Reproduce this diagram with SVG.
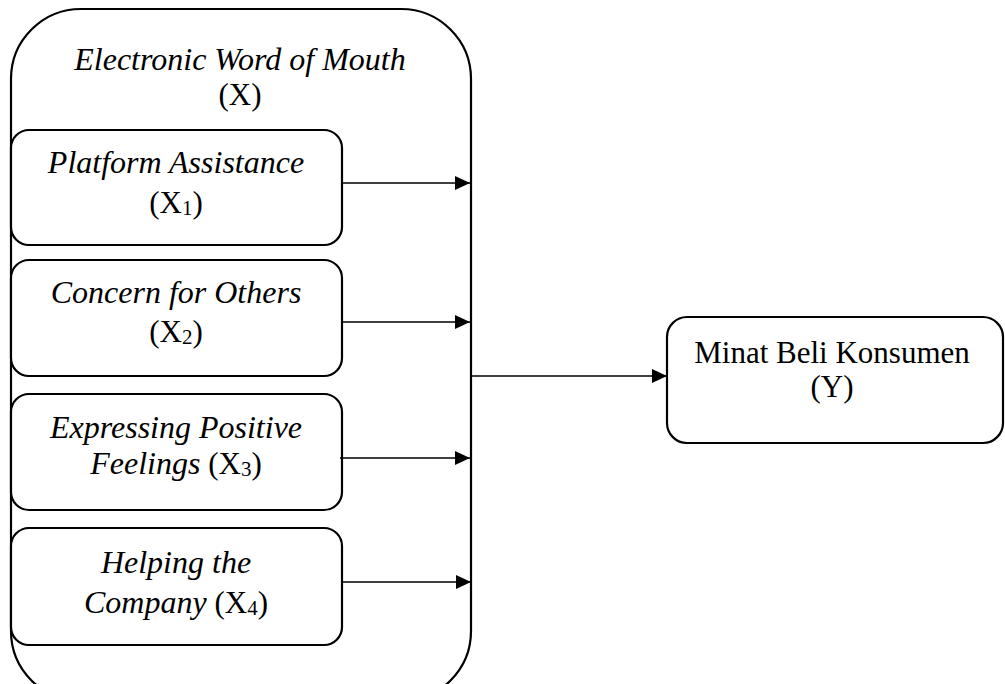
<svg xmlns="http://www.w3.org/2000/svg" width="1005" height="684" viewBox="0 0 1005 684">
<style>
.box{fill:#fff;stroke:#000;stroke-width:2.2}
.t{font-family:"Liberation Serif","Times New Roman",serif;font-size:31px;fill:#000;text-anchor:middle}
.i{font-style:italic;font-size:32px}
.sub{font-size:21px}
.c{stroke:#000;stroke-width:1.3;fill:none}
</style>
<defs>
<marker id="ah" markerWidth="15" markerHeight="14" refX="15" refY="7" orient="auto" markerUnits="userSpaceOnUse">
<path d="M0,0 L15,7 L0,14 Z" fill="#000"/>
</marker>
</defs>
<g id="eWOM">
<rect class="box" x="11" y="9" width="460" height="692" rx="70" ry="70"/>
<text class="t" x="240" y="70"><tspan class="i">Electronic Word of Mouth</tspan></text>
<text class="t" x="240" y="105">(X)</text>
</g>
<g id="x1">
<rect class="box" x="11" y="130" width="331" height="115" rx="18" ry="18"/>
<text class="t" x="176" y="173"><tspan class="i">Platform Assistance</tspan></text>
<text class="t" x="176" y="213">(X<tspan class="sub" dy="2">1</tspan><tspan dy="-2">)</tspan></text>
</g>
<g id="x2">
<rect class="box" x="11" y="260" width="331" height="116" rx="18" ry="18"/>
<text class="t" x="176" y="303"><tspan class="i">Concern for Others</tspan></text>
<text class="t" x="176" y="342">(X<tspan class="sub" dy="2">2</tspan><tspan dy="-2">)</tspan></text>
</g>
<g id="x3">
<rect class="box" x="11" y="394" width="331" height="116" rx="18" ry="18"/>
<text class="t" x="176" y="438"><tspan class="i">Expressing Positive</tspan></text>
<text class="t" x="176" y="474"><tspan class="i">Feelings</tspan> (X<tspan class="sub" dy="2">3</tspan><tspan dy="-2">)</tspan></text>
</g>
<g id="x4">
<rect class="box" x="11" y="528" width="331" height="117" rx="18" ry="18"/>
<text class="t" x="176" y="573"><tspan class="i">Helping the</tspan></text>
<text class="t" x="176" y="613"><tspan class="i">Company</tspan> (X<tspan class="sub" dy="2">4</tspan><tspan dy="-2">)</tspan></text>
</g>
<g id="y">
<rect class="box" x="667" y="317" width="336" height="126" rx="20" ry="20"/>
<text class="t" x="832" y="363">Minat Beli Konsumen</text>
<text class="t" x="832" y="397">(Y)</text>
</g>
<g id="connectors">
<line class="c" x1="342" y1="183" x2="470" y2="183" marker-end="url(#ah)"/>
<line class="c" x1="342" y1="322" x2="470" y2="322" marker-end="url(#ah)"/>
<line class="c" x1="340" y1="458" x2="470" y2="458" marker-end="url(#ah)"/>
<line class="c" x1="342" y1="582" x2="471" y2="582" marker-end="url(#ah)"/>
<line class="c" x1="471" y1="376" x2="667" y2="376" marker-end="url(#ah)"/>
</g>
</svg>
